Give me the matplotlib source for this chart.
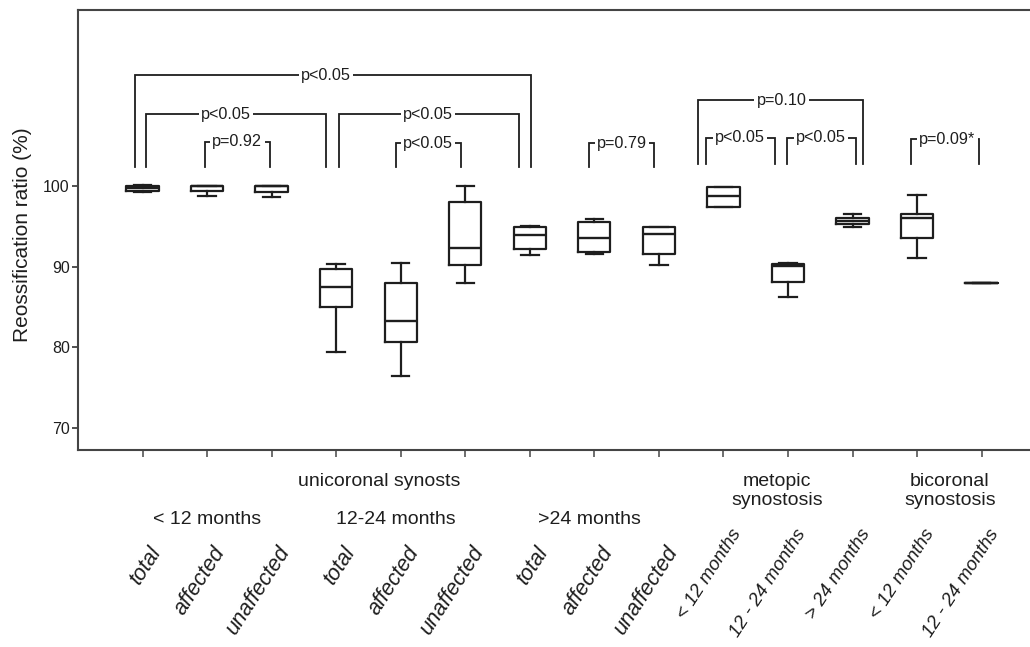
import numpy as np
import matplotlib
matplotlib.use('Agg')
from matplotlib import pyplot as plt

plt.rcParams['font.family'] = ['Liberation Sans', 'DejaVu Sans']

# box statistics (%)
positions = np.arange(1, 15)
whislo = [99.2, 98.8, 98.6, 79.4, 76.5, 88.0, 91.4, 91.55, 90.2, 97.4, 86.2, 94.95, 91.1, 88.0]
q1 = [99.4, 99.4, 99.3, 85.0, 80.7, 90.25, 92.2, 91.8, 91.6, 97.4, 88.1, 95.25, 93.6, 88.0]
med = [99.8, 100.0, 100.0, 87.45, 83.3, 92.3, 93.9, 93.6, 94.0, 98.8, 90.15, 95.7, 96.0, 88.0]
q3 = [99.95, 100.0, 100.0, 89.75, 88.0, 98.0, 94.95, 95.6, 94.95, 99.9, 90.3, 96.0, 96.5, 88.0]
whishi = [100.1, 100.0, 100.0, 90.4, 90.45, 100.0, 95.1, 95.95, 94.95, 99.9, 90.5, 96.5, 98.9, 88.0]

tick_labels = ['total', 'affected', 'unaffected', 'total', 'affected', 'unaffected',
               'total', 'affected', 'unaffected',
               '< 12 months', '12 - 24 months', '> 24 months',
               '< 12 months', '12 - 24 months']

group_labels = ['unicoronal synosts', '< 12 months', '12-24 months', '>24 months',
                'metopic\nsynostosis', 'bicoronal\nsynostosis']
group_x = [4.67, 2.0, 4.92, 7.93, 10.83, 13.51]
group_row = [0, 1, 1, 1, 0, 0]

# significance brackets
br_left = [0.88, 1.06, 1.96, 4.04, 4.92, 7.91, 9.60, 9.73, 10.98, 12.91]
br_right = [7.02, 3.84, 2.98, 6.84, 5.93, 8.92, 12.16, 10.80, 12.05, 13.96]
br_level = [113.7, 108.9, 105.5, 108.9, 105.3, 105.3, 110.65, 106.0, 106.0, 105.8]
br_foot = [102.4, 102.4, 102.4, 102.4, 102.4, 102.4, 102.7, 102.7, 102.7, 102.7]
br_text = ['p<0.05', 'p<0.05', 'p=0.92', 'p<0.05', 'p<0.05', 'p=0.79',
           'p=0.10', 'p<0.05', 'p<0.05', 'p=0.09*']
br_text_x = [3.84, 2.29, 2.47, 5.42, 5.42, 8.43, 10.9, 10.26, 11.51, 13.47]

ink = '#1e1e1e'

fig = plt.figure(figsize=(10.30, 6.47), dpi=100)
ax = fig.add_axes([78 / 1030, 197 / 647, 1 - 78 / 1030, 440 / 647])

stats = []
for i in range(len(positions)):
    stats.append(dict(whislo=whislo[i], q1=q1[i], med=med[i], q3=q3[i],
                      whishi=whishi[i], fliers=[]))

line_kw = dict(color=ink, linewidth=1.6)
ax.bxp(stats, positions=positions, widths=0.5, capwidths=0.27,
       boxprops=line_kw, whiskerprops=line_kw, capprops=line_kw,
       medianprops=dict(color=ink, linewidth=1.7), showfliers=False,
       manage_ticks=False)

for x0, x1, lvl, foot, txt, tx in zip(br_left, br_right, br_level, br_foot, br_text, br_text_x):
    ax.plot([x0, x0, x1, x1], [foot, lvl, lvl, foot], color=ink, linewidth=1.3,
            solid_joinstyle='miter')
    ax.text(tx, lvl, txt, ha='center', va='center', fontsize=11.7, color=ink,
            bbox=dict(facecolor='white', edgecolor='none', pad=1.5))

ax.set_xlim(0, 14.75)
ax.set_ylim(67.3, 121.8)
ax.set_yticks([70, 80, 90, 100])
ax.set_xticks(positions)
ax.set_xticklabels([])
ax.tick_params(axis='y', length=4, width=1.2, pad=2, labelsize=11.5, colors='#333333',
               labelcolor=ink)
ax.tick_params(axis='x', length=5, width=1.2, colors='#555555')
ax.spines['right'].set_visible(False)
for s in ['left', 'top', 'bottom']:
    ax.spines[s].set_linewidth(1.5)
    ax.spines[s].set_color('#444444')

trans = ax.get_xaxis_transform()
for i, lbl in enumerate(tick_labels):
    first_part = positions[i] <= 9
    dy = -99 if first_part else -81
    ax.annotate(lbl, xy=(positions[i], 0), xycoords=trans,
                xytext=(14 * 0.72, dy * 0.72), textcoords='offset points',
                rotation=57, rotation_mode='anchor', ha='right', va='center',
                fontsize=15.5 if first_part else 13.5, style='italic', color=ink,
                annotation_clip=False)

for lbl, gx, row in zip(group_labels, group_x, group_row):
    ypx = 482 if row == 0 else 520
    if '\n' in lbl:
        ypx = 491
    ax.text(gx, (450 - ypx) / 440, lbl, transform=trans, ha='center', va='center',
            fontsize=14, color=ink, linespacing=1.1)

fig.text(23 / 1030, 1 - 235 / 647, 'Reossification ratio (%)', rotation=90,
         ha='center', va='center', fontsize=15, color=ink)

fig.savefig('out.png', dpi=100)
